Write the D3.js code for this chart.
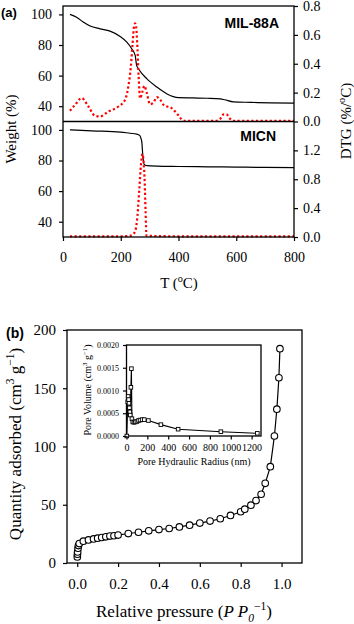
<!DOCTYPE html>
<html>
<head>
<meta charset="utf-8">
<script src="https://cdnjs.cloudflare.com/ajax/libs/d3/7.8.5/d3.min.js"></script>
<style>
  body { margin: 0; background: #fff; }
  svg text { fill: #000; }
</style>
</head>
<body>
<div id="chart"></div>
<script>
// ---------- data, panel (a) ----------
var tempTicks = [0, 200, 400, 600, 800];
var weightTicks = [40, 60, 80, 100];
var dtgTicksTop = [0, 0.2, 0.4, 0.6, 0.8];
var dtgTicksBottom = [0, 0.4, 0.8, 1.2];

// MIL-88A weight loss
var milTemp = [24, 47, 70, 94, 128, 163, 198, 221, 238, 250, 255, 263, 290, 325, 359, 400, 450, 500, 545, 560, 590, 650, 720, 800];
var milWeight = [100, 98.2, 95, 92.4, 90.6, 89.1, 85.6, 81.9, 77.6, 73.2, 66.7, 64, 58, 52.5, 48.2, 45.6, 45.4, 45.2, 44.8, 44.2, 42.8, 42.5, 42.2, 42];
// MIL-88A DTG
var milDtgTemp = [24, 42, 65, 88, 111, 128, 157, 192, 215, 226, 235, 241, 246, 250, 253, 258, 262, 267, 274, 282, 290, 301, 313, 325, 337, 348, 360, 371, 385, 394, 402, 411, 420, 450, 500, 530, 545, 556, 566, 578, 590, 650, 700, 750, 800];
var milDtg = [0.074, 0.116, 0.162, 0.104, 0.039, 0.035, 0.069, 0.104, 0.15, 0.24, 0.38, 0.54, 0.66, 0.68, 0.66, 0.5, 0.31, 0.16, 0.2, 0.247, 0.2, 0.12, 0.13, 0.169, 0.15, 0.116, 0.104, 0.1, 0.075, 0.058, 0.035, 0.015, 0.005, 0.005, 0.005, 0.005, 0.02, 0.05, 0.05, 0.02, 0.005, 0.005, 0.005, 0.005, 0.005];

// MICN weight loss
var micTemp = [24, 100, 200, 232, 255, 262, 267, 270, 273, 276, 281, 290, 325, 400, 500, 600, 700, 800];
var micWeight = [100, 99.4, 98.6, 97.8, 97.3, 96.8, 96, 94.5, 92, 84.4, 77.5, 76.7, 76.3, 76.1, 75.9, 75.7, 75.5, 75.4];
// MICN DTG
var micDtgTemp = [24, 100, 200, 230, 240, 250, 258, 264, 270, 275, 279, 283, 286, 289, 300, 400, 500, 600, 700, 800];
var micDtg = [0.01, 0.01, 0.01, 0.015, 0.03, 0.08, 0.3, 0.65, 1.0, 1.15, 1.05, 0.75, 0.35, 0.02, 0.015, 0.01, 0.01, 0.01, 0.01, 0.01];

// ---------- data, panel (b) ----------
var pressureTicks = [0, 0.2, 0.4, 0.6, 0.8, 1.0];
var quantityTicks = [0, 50, 100, 150, 200];
var relPressure = [0.0005, 0.001, 0.002, 0.004, 0.006, 0.01, 0.03, 0.055, 0.08, 0.1, 0.12, 0.14, 0.16, 0.18, 0.2, 0.25, 0.3, 0.35, 0.4, 0.45, 0.5, 0.55, 0.6, 0.65, 0.7, 0.75, 0.8, 0.82, 0.85, 0.875, 0.9, 0.92, 0.945, 0.965, 0.977, 0.987, 0.992];
var quantity = [5.2, 7.5, 9.5, 12.7, 15, 16.7, 18.7, 19.8, 20.7, 21.3, 21.9, 22.5, 23.1, 23.4, 24, 25.3, 26.4, 27.6, 28.7, 29.6, 31, 32.5, 34.3, 36, 38, 40.8, 44, 46.2, 49.6, 53.6, 59, 68.4, 82.7, 109, 132, 159, 184];

// inset: pore size distribution
var radiusTicks = [0, 200, 400, 600, 800, 1000, 1200];
var poreVolTicks = [0, 0.0005, 0.001, 0.0015, 0.002];
var poreRadius = [3, 12, 16, 20, 24, 28, 32, 36, 42, 47, 52, 60, 72, 85, 100, 115, 130, 150, 170, 210, 330, 495, 905, 1255];
var poreVolume = [0, 0.00075, 0.00087, 0.0008, 0.00072, 0.00062, 0.00053, 0.00046, 0.00107, 0.00148, 0.00038, 0.00031, 0.0003, 0.00031, 0.00032, 0.00034, 0.00035, 0.00036, 0.00036, 0.00034, 0.00025, 0.00015, 0.000095, 0.00006];

var serif = "Liberation Serif";
var sans = "Liberation Sans";

var svg = d3.select("#chart")
  .append("svg")
  .attr("width", 354)
  .attr("height", 624);

function zip(xs, ys) {
  return xs.map(function(x, i) { return [x, ys[i]]; });
}

// axis style helper: serif labels, no domain path (boxes drawn separately)
function styleAxis(g, size) {
  g.attr("font-family", serif).attr("font-size", size);
  g.selectAll(".tick text").attr("font-family", serif).attr("font-size", size);
  g.select(".domain").remove();
  g.selectAll(".tick line").attr("stroke-width", 1.2);
}

// text with sup/sub parts
function richText(sel, base, parts) {
  var shift = 0;
  parts.forEach(function(p) {
    var t = sel.append("tspan").text(p.t);
    var target = 0;
    if (p.sup) target = -0.42 * base;
    if (p.sub) target = 0.3 * base;
    if (p.sup || p.sub) t.attr("font-size", base * 0.68);
    if (p.italic) t.attr("font-style", "italic");
    if (target !== shift) t.attr("dy", target - shift);
    shift = target;
  });
}

// ================= panel (a) =================
var ax = { left: 63, right: 294, top: 6, mid: 121.5, bottom: 237 };

var xTemp = d3.scaleLinear().domain([0, 800]).range([ax.left, ax.right]);
var wTop = d3.scaleLinear().domain([30, 105.5]).range([ax.mid, ax.top]);
var dTop = d3.scaleLinear().domain([0, 0.8]).range([ax.mid, ax.top]);
var wBot = d3.scaleLinear().domain([30, 105.5]).range([ax.bottom, ax.mid]);
var dBot = d3.scaleLinear().domain([0, 1.6]).range([ax.bottom, ax.mid]);

var panelA = svg.append("g");

// weight curves (black)
function curveLine(yScale) {
  return d3.line().x(d => xTemp(d[0])).y(d => yScale(d[1])).curve(d3.curveMonotoneX);
}
panelA.append("path")
  .attr("d", curveLine(wTop)(zip(milTemp, milWeight)))
  .attr("fill", "none").attr("stroke", "#000").attr("stroke-width", 1.2);
panelA.append("path")
  .attr("d", curveLine(wBot)(zip(micTemp, micWeight)))
  .attr("fill", "none").attr("stroke", "#000").attr("stroke-width", 1.2);

// DTG curves (red dotted)
panelA.append("path")
  .attr("d", curveLine(dTop)(zip(milDtgTemp, milDtg)))
  .attr("fill", "none").attr("stroke", "#ff0000").attr("stroke-width", 2.2)
  .attr("stroke-dasharray", "2.2,2.4");
panelA.append("path")
  .attr("d", curveLine(dBot)(zip(micDtgTemp, micDtg)))
  .attr("fill", "none").attr("stroke", "#ff0000").attr("stroke-width", 2.2)
  .attr("stroke-dasharray", "2.2,2.4");

// frames
panelA.append("rect")
  .attr("x", ax.left).attr("y", ax.top)
  .attr("width", ax.right - ax.left).attr("height", ax.bottom - ax.top)
  .attr("fill", "none").attr("stroke", "#000").attr("stroke-width", 1.3);
panelA.append("line")
  .attr("x1", ax.left).attr("x2", ax.right)
  .attr("y1", ax.mid).attr("y2", ax.mid)
  .attr("stroke", "#000").attr("stroke-width", 1.3);

// axes
panelA.append("g").attr("transform", `translate(${ax.left},0)`)
  .call(d3.axisLeft(wTop).tickValues(weightTicks).tickSize(4).tickPadding(7))
  .call(g => styleAxis(g, 14));
panelA.append("g").attr("transform", `translate(${ax.left},0)`)
  .call(d3.axisLeft(wBot).tickValues(weightTicks).tickSize(4).tickPadding(7))
  .call(g => styleAxis(g, 14));
panelA.append("g").attr("transform", `translate(${ax.right},0)`)
  .call(d3.axisRight(dTop).tickValues(dtgTicksTop).tickFormat(d3.format(".1f")).tickSize(4).tickPadding(5))
  .call(g => styleAxis(g, 14));
panelA.append("g").attr("transform", `translate(${ax.right},0)`)
  .call(d3.axisRight(dBot).tickValues(dtgTicksBottom).tickFormat(d3.format(".1f")).tickSize(4).tickPadding(5))
  .call(g => styleAxis(g, 14));
panelA.append("g").attr("transform", `translate(0,${ax.bottom})`)
  .call(d3.axisBottom(xTemp).tickValues(tempTicks).tickSize(4).tickPadding(11))
  .call(g => styleAxis(g, 14));

// labels
panelA.append("text")
  .attr("x", 1).attr("y", 17)
  .attr("font-family", sans).attr("font-weight", "bold").attr("font-size", 13)
  .text("(a)");
panelA.append("text")
  .attr("x", 279).attr("y", 28).attr("text-anchor", "end")
  .attr("font-family", sans).attr("font-weight", "bold").attr("font-size", 14)
  .text("MIL-88A");
panelA.append("text")
  .attr("x", 276).attr("y", 141).attr("text-anchor", "end")
  .attr("font-family", sans).attr("font-weight", "bold").attr("font-size", 14)
  .text("MICN");

panelA.append("text")
  .attr("transform", "translate(16,129) rotate(-90)")
  .attr("text-anchor", "middle")
  .attr("font-family", serif).attr("font-size", 15)
  .text("Weight (%)");

panelA.append("text")
  .attr("transform", "translate(351,121) rotate(-90)")
  .attr("text-anchor", "middle")
  .attr("font-family", serif).attr("font-size", 15)
  .call(t => richText(t, 15, [{ t: "DTG (%/" }, { t: "o", sup: true }, { t: "C)" }]));

panelA.append("text")
  .attr("x", 179).attr("y", 288)
  .attr("text-anchor", "middle")
  .attr("font-family", serif).attr("font-size", 15)
  .call(t => richText(t, 15, [{ t: "T (" }, { t: "o", sup: true }, { t: "C)" }]));

// ================= panel (b) =================
var bx = { left: 67, right: 302, top: 330, bottom: 563 };

var xP = d3.scaleLinear().domain([-0.05, 1.1]).range([bx.left, bx.right]);
var yQ = d3.scaleLinear().domain([0, 200]).range([bx.bottom, bx.top]);

var panelB = svg.append("g");

panelB.append("rect")
  .attr("x", bx.left).attr("y", bx.top)
  .attr("width", bx.right - bx.left).attr("height", bx.bottom - bx.top)
  .attr("fill", "none").attr("stroke", "#000").attr("stroke-width", 1.3);

var isotherm = zip(relPressure, quantity);
panelB.append("path")
  .attr("d", d3.line().x(d => xP(d[0])).y(d => yQ(d[1]))(isotherm))
  .attr("fill", "none").attr("stroke", "#000").attr("stroke-width", 1.2);
panelB.append("g").selectAll("circle")
  .data(isotherm)
  .enter()
  .append("circle")
  .attr("cx", d => xP(d[0]))
  .attr("cy", d => yQ(d[1]))
  .attr("r", 3.3)
  .attr("fill", "#fff")
  .attr("stroke", "#000")
  .attr("stroke-width", 1.1);

panelB.append("g").attr("transform", `translate(${bx.left},0)`)
  .call(d3.axisLeft(yQ).tickValues(quantityTicks).tickSize(4).tickPadding(7))
  .call(g => styleAxis(g, 15));
panelB.append("g").attr("transform", `translate(0,${bx.bottom})`)
  .call(d3.axisBottom(xP).tickValues(pressureTicks).tickFormat(d3.format(".1f")).tickSize(4).tickPadding(11))
  .call(g => styleAxis(g, 15));

panelB.append("text")
  .attr("x", 6).attr("y", 338)
  .attr("font-family", sans).attr("font-weight", "bold").attr("font-size", 14)
  .text("(b)");

panelB.append("text")
  .attr("transform", "translate(21,444) rotate(-90)")
  .attr("text-anchor", "middle")
  .attr("font-family", serif).attr("font-size", 17)
  .call(t => richText(t, 17, [{ t: "Quantity adsorbed (cm" }, { t: "3", sup: true }, { t: " g" }, { t: "\u22121", sup: true }, { t: ")" }]));

panelB.append("text")
  .attr("x", 184).attr("y", 617)
  .attr("text-anchor", "middle")
  .attr("font-family", serif).attr("font-size", 17)
  .call(t => richText(t, 17, [{ t: "Relative pressure (" }, { t: "P P", italic: true }, { t: "0", sub: true, italic: true }, { t: "\u22121", sup: true }, { t: ")" }]));

// ---------- inset ----------
var ix = { left: 126.5, right: 261, top: 345, bottom: 436 };
var xR = d3.scaleLinear().domain([0, 1290]).range([ix.left, ix.right]);
var yV = d3.scaleLinear().domain([0, 0.002]).range([ix.bottom, ix.top]);

var inset = svg.append("g");
inset.append("rect")
  .attr("x", ix.left).attr("y", ix.top)
  .attr("width", ix.right - ix.left).attr("height", ix.bottom - ix.top)
  .attr("fill", "#fff").attr("stroke", "#000").attr("stroke-width", 1.3);

var psd = zip(poreRadius, poreVolume);
inset.append("path")
  .attr("d", d3.line().x(d => xR(d[0])).y(d => yV(d[1]))(psd))
  .attr("fill", "none").attr("stroke", "#000").attr("stroke-width", 1.1);
inset.append("g").selectAll("rect")
  .data(psd)
  .enter()
  .append("rect")
  .attr("x", d => xR(d[0]) - 1.8)
  .attr("y", d => yV(d[1]) - 1.8)
  .attr("width", 3.6).attr("height", 3.6)
  .attr("fill", "#fff").attr("stroke", "#000").attr("stroke-width", 0.9);

inset.append("g").attr("transform", `translate(${ix.left},0)`)
  .call(d3.axisLeft(yV).tickValues(poreVolTicks).tickFormat(d3.format(".4f")).tickSize(3.5).tickPadding(4))
  .call(g => styleAxis(g, 8));
inset.append("g").attr("transform", `translate(0,${ix.bottom})`)
  .call(d3.axisBottom(xR).tickValues(radiusTicks).tickFormat(d3.format("d")).tickSize(3.5).tickPadding(4))
  .call(g => styleAxis(g, 10));

inset.append("text")
  .attr("transform", "translate(91,390) rotate(-90)")
  .attr("text-anchor", "middle")
  .attr("font-family", serif).attr("font-size", 10)
  .call(t => richText(t, 10, [{ t: "Pore Volume (cm" }, { t: "3", sup: true }, { t: " g" }, { t: "\u22121", sup: true }, { t: ")" }]));
inset.append("text")
  .attr("x", 194).attr("y", 465)
  .attr("text-anchor", "middle")
  .attr("font-family", serif).attr("font-size", 10)
  .text("Pore Hydraulic Radius (nm)");
</script>
</body>
</html>
